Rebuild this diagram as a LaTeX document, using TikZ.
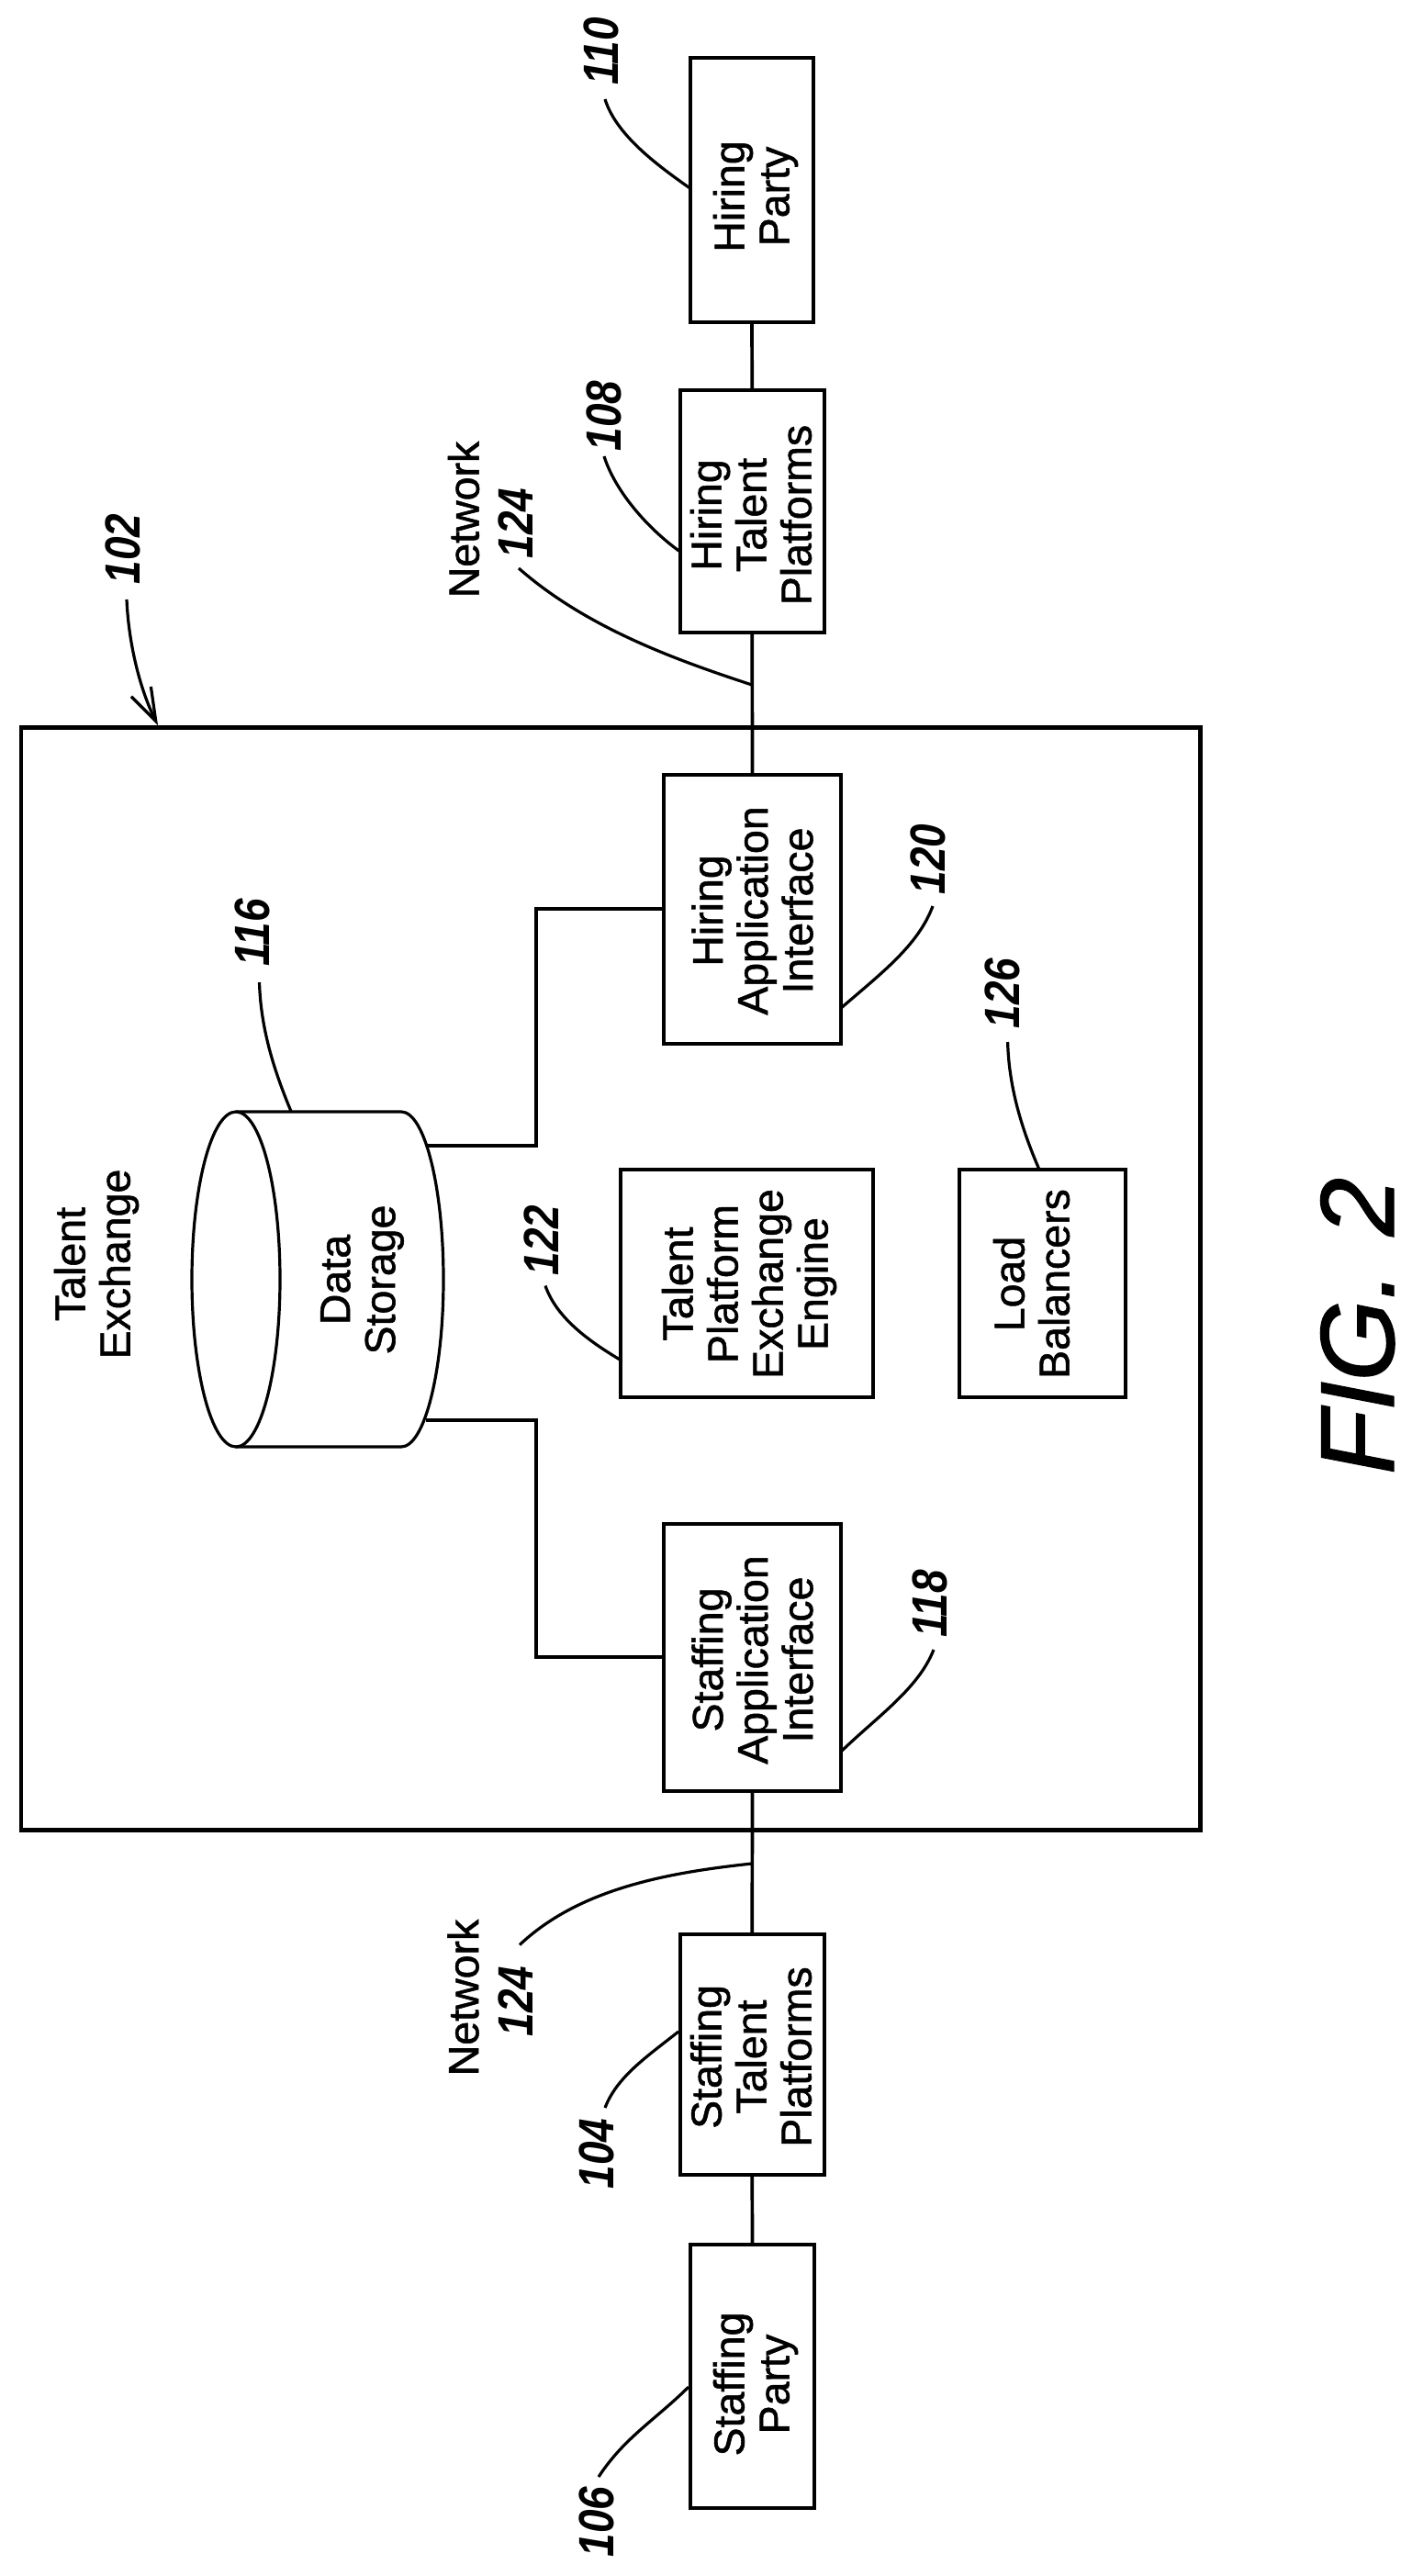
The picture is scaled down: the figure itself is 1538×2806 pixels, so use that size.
\documentclass[tikz,border=0pt]{standalone}
\usepackage{fontspec}
\setmainfont{Liberation Sans}
\newfontfamily\labfont[FakeBold=1.2,ItalicFeatures={FakeBold=1.2}]{Liberation Sans}
\usetikzlibrary{arrows.meta,shapes.geometric}
\tikzset{
  x=1pt,y=-1pt,
  box/.style={draw=black,line width=4pt,fill=none,inner sep=0pt,outer sep=0pt,minimum width=#1},
  txt/.style={rotate=90,align=center,font=\labfont\fontsize{46.5}{49}\selectfont,inner sep=0pt,text=black},
  ref/.style={rotate=90,font=\fontsize{54}{54}\selectfont\bfseries\itshape,inner sep=0pt,text=black},
  wire/.style={draw=black,line width=3.7pt},
  lead/.style={draw=black,line width=3.2pt},
}
\newcommand{\bx}[5]{\node[box=#4-#2,minimum height=#5-#3] (#1) at ({(#2+#4)/2},{(#3+#5)/2}) {};}
\newcommand{\nm}[1]{\scalebox{0.85}[1]{#1}}
\begin{document}
\begin{tikzpicture}
\path[use as bounding box,fill=white] (0,0) rectangle (1538,2806);
% boxes
\node[draw=black,line width=4.5pt,inner sep=0pt,minimum width=1284.5pt,minimum height=1201pt] (outer) at (665.25,1393) {};
\bx{hp}{752}{62.5}{886}{351}
\bx{ht}{741}{425}{897.5}{689}
\bx{hai}{723}{844}{916}{1137}
\bx{eng}{676}{1274}{950.5}{1522}
\bx{lb}{1044.6}{1274}{1226}{1522}
\bx{sai}{723}{1660}{916}{1951}
\bx{st}{741}{2107}{897.5}{2369}
\bx{sp}{752}{2445}{887}{2732}
% cylinder
\coordinate (ctl) at (257,1211);
\coordinate (cbl) at (257,1576);
\coordinate (ctr) at (437,1211);
\coordinate (cbr) at (437,1576);
\node[draw=black,line width=3.2pt,shape=ellipse,inner sep=0pt,minimum width=96pt,minimum height=365pt] (cyl) at (257,1393.5) {};
\draw[line width=3.2pt] (ctl)--(ctr) .. controls (462.4,1211) and (483,1292.7) .. (483,1393.5) .. controls (483,1494.3) and (462.4,1576) .. (cbr) -- (cbl);
% wires
\coordinate (cw1) at (464.5,1248);
\coordinate (cw2) at (463.5,1547);
\coordinate (netT) at (819,746);
\coordinate (netB) at (819,2030);
\draw[wire] (hp.south)--(ht.north);
\draw[wire] (ht.south)--(hai.north);
\draw[wire] (sai.south)--(st.north);
\draw[wire] (st.south)--(sp.north);
\draw[wire] (cw1)-|(584,990)--(hai.west |- 0,990);
\draw[wire] (cw2)-|(584,1805)--(sai.west |- 0,1805);
% texts
\node[txt] (tex) at (105,1377) {Talent\\Exchange};
\node[txt] (thp) at (823,214) {Hiring\\Party};
\node[txt] (tht) at (818,561) {Hiring\\Talent\\Platforms};
\node[txt] (tnt) at (505,566) {Network};
\node[txt] (thai) at (819.5,992) {Hiring\\Application\\Interface};
\node[txt] (tds) at (394.5,1394) {Data\\Storage};
\node[txt] (teng) at (816,1398.5) {Talent\\Platform\\Exchange\\Engine};
\node[txt] (tlb) at (1123.5,1398.5) {Load\\Balancers};
\node[txt] (tsai) at (819.5,1808) {Staffing\\Application\\Interface};
\node[txt] (tst) at (818,2240.5) {Staffing\\Talent\\Platforms};
\node[txt] (tnb) at (504.5,2176) {Network};
\node[txt] (tsp) at (823,2597) {Staffing\\Party};
% refs
\node[ref] (r110) at (655,56) {\nm{110}};
\node[ref] (r108) at (658,453) {\nm{108}};
\node[ref] (r124a) at (562,570) {\nm{124}};
\node[ref] (r102) at (134,598) {\nm{102}};
\node[ref] (r116) at (275,1016) {\nm{116}};
\node[ref] (r120) at (1011,936) {\nm{120}};
\node[ref] (r126) at (1092,1082) {\nm{126}};
\node[ref] (r122) at (589.5,1351) {\nm{122}};
\node[ref] (r118) at (1013,1747) {\nm{118}};
\node[ref] (r124b) at (562,2180) {\nm{124}};
\node[ref] (r104) at (650,2346) {\nm{104}};
\node[ref] (r106) at (650,2747) {\nm{106}};
% leaders
\coordinate (l110) at (659,108);
\coordinate (l108) at (658,497);
\coordinate (lnt) at (565,619);
\coordinate (l102) at (138,653);
\coordinate (l120) at (1016,987);
\coordinate (l116) at (282.5,1070);
\coordinate (l126) at (1097.6,1135);
\coordinate (l122) at (594,1400.5);
\coordinate (l118) at (1017,1797);
\coordinate (lnb) at (566,2118.5);
\coordinate (l104) at (659,2296);
\coordinate (l106) at (652,2698);
\coordinate (e110) at (751.5,205);
\coordinate (e108) at (739.5,600);
\coordinate (e102) at (172,790);
\coordinate (e120) at (915,1099);
\coordinate (e116) at (317,1210.5);
\coordinate (e126) at (1132,1274);
\coordinate (e122) at (676,1481.5);
\coordinate (e118) at (915,1909);
\coordinate (e104) at (739,2213);
\coordinate (e106) at (750,2600);
\draw[lead] (l110) .. controls (671,147) and (716,180) .. (e110);
\draw[lead] (l108) .. controls (670,535) and (705,575) .. (e108);
\draw[lead] (lnt) .. controls (640,685) and (740,720) .. (netT);
\draw[lead,-{Straight Barb[length=36pt,width=24pt]}] (l102) .. controls (140,700) and (152,750) .. (e102);
\draw[lead] (l120) .. controls (1000,1030) and (960,1060) .. (e120);
\draw[lead] (l116) .. controls (284,1120) and (298,1165) .. (e116);
\draw[lead] (l126) .. controls (1099,1185) and (1113,1230) .. (e126);
\draw[lead] (l122) .. controls (606,1435) and (640,1460) .. (e122);
\draw[lead] (l118) .. controls (1000,1840) and (955,1870) .. (e118);
\draw[lead] (lnb) .. controls (630,2058) and (725,2040) .. (netB);
\draw[lead] (l104) .. controls (672,2262) and (705,2240) .. (e104);
\draw[lead] (l106) .. controls (680,2655) and (715,2635) .. (e106);
\node[rotate=90,anchor=base,font=\labfont\fontsize{114}{114}\selectfont\itshape,inner sep=0pt] (fig) at (1518,1444.5) {FIG.\hspace{38pt}2};
\end{tikzpicture}
\end{document}
